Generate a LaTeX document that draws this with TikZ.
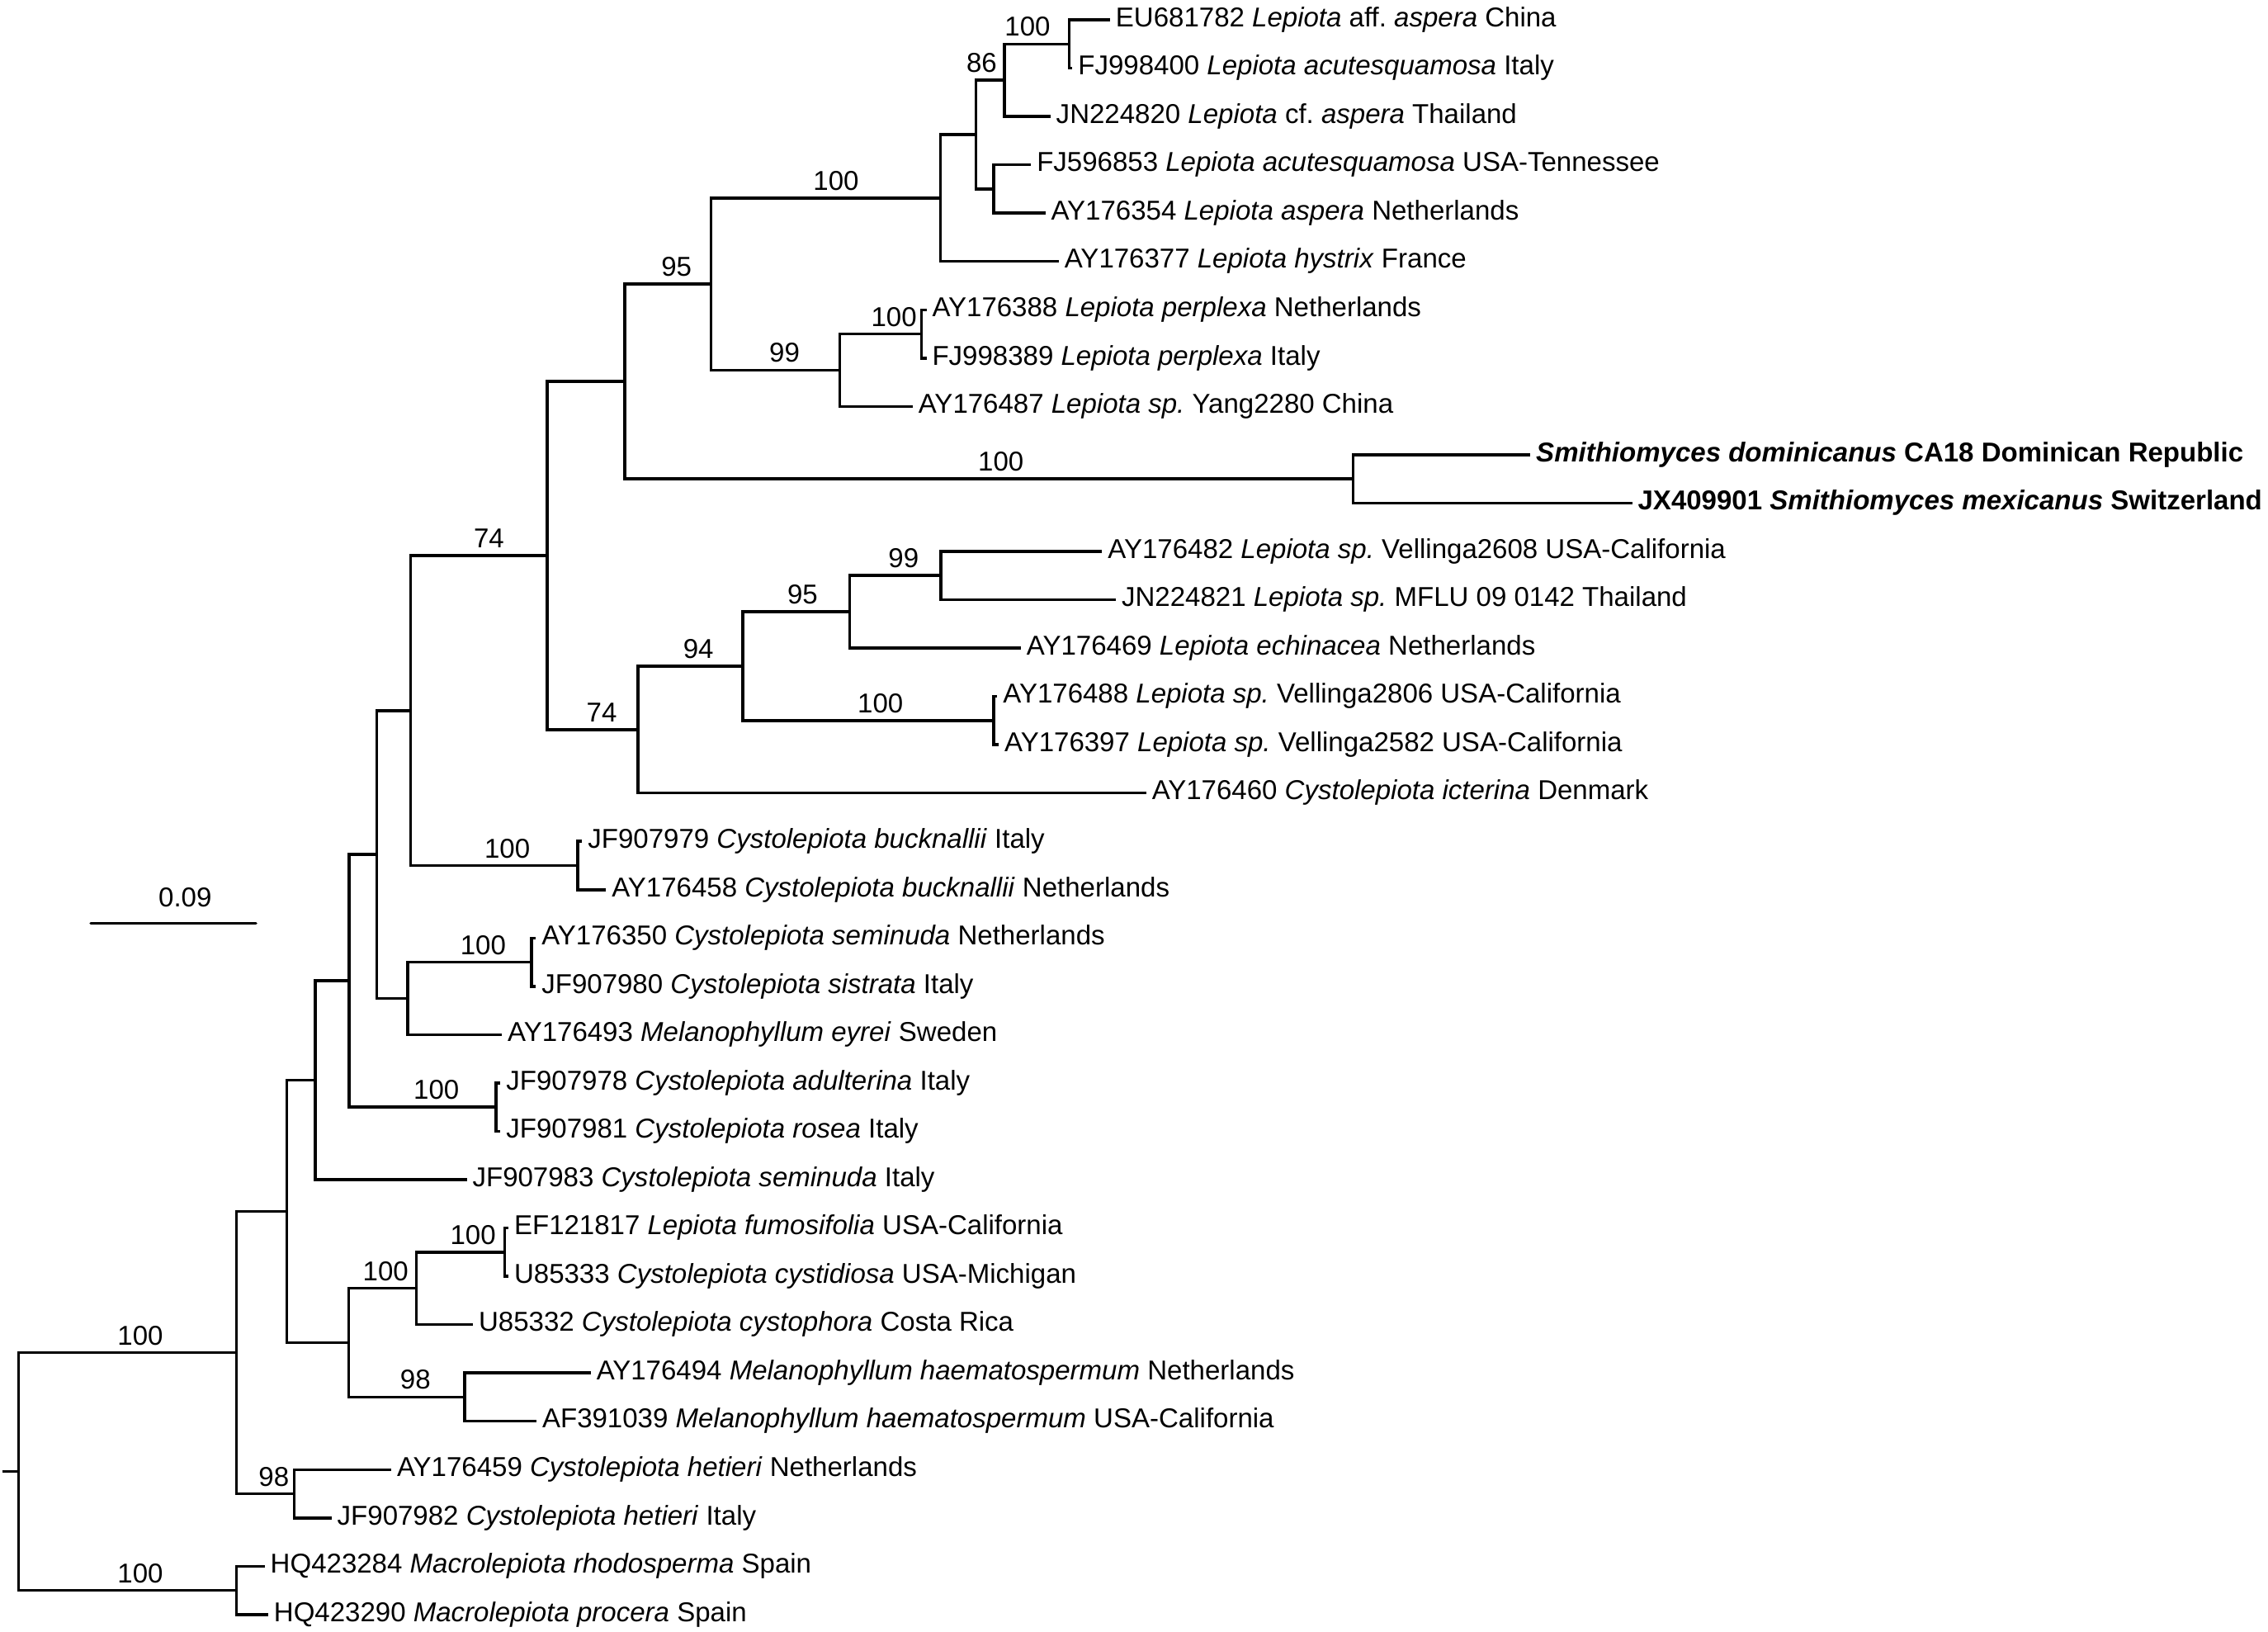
\documentclass[tikz,border=0pt]{standalone}
\usepackage{fontspec}
\setmainfont{Liberation Sans}
\frenchspacing

\begin{document}
\begin{tikzpicture}[
    x=0.017526cm, y=-0.58563cm,
    every node/.style={font=\fontsize{9.4}{11}\selectfont},
    br/.style={line width=1pt},
    tip/.style={anchor=west, inner xsep=1.8pt, inner ysep=0pt, text height=6.7pt, text depth=2pt},
    bs/.style={anchor=south, inner sep=0pt, yshift=2.4pt},
  ]
  \useasboundingbox (0,-0.41) rectangle (1568,33.347);

  % ── Internal nodes ───────────────────────────────────────────────────────

  \coordinate (stub)       at (1.5,   30.040);
  \coordinate (root)       at (12.9,  30.040);
  \coordinate (ingroup)    at (163.6, 27.579);
  \coordinate (macro)      at (163.6, 32.5);
  \coordinate (hetieri)    at (203.5, 30.5);
  \coordinate (core)       at (198.4, 24.659);
  \coordinate (core1)      at (218.0, 21.943);
  \coordinate (core2)      at (241.3, 19.886);
  \coordinate (core3)      at (260.4, 17.271);
  \coordinate (core4)      at (284.0, 14.293);
  \coordinate (fumo)       at (241.0, 27.375);
  \coordinate (cystidiosa) at (287.8, 26.25);
  \coordinate (fumosif)    at (348.8, 25.5);
  \coordinate (haemato)    at (321.2, 28.5);
  \coordinate (adulterina) at (342.8, 22.5);
  \coordinate (seminuda)   at (282.0, 20.25);
  \coordinate (sistrata)   at (367.5, 19.5);
  \coordinate (bucknallii) at (399.4, 17.5);
  \coordinate (lepiota)    at (378.4, 11.086);
  \coordinate (lepsmith)   at (432.0, 7.484);
  \coordinate (icterina)   at (441.2, 14.688);
  \coordinate (lep95)      at (491.5, 5.469);
  \coordinate (aspera)     at (650.3, 3.688);
  \coordinate (aspera1)    at (674.8, 2.375);
  \coordinate (aspera2)    at (694.4, 1.25);
  \coordinate (affaspera)  at (739.3, 0.5);
  \coordinate (acutesq)    at (687.0, 3.5);
  \coordinate (perplexa)   at (580.5, 7.25);
  \coordinate (perplexa2)  at (637.0, 6.5);
  \coordinate (smithio)    at (935.4, 9.5);
  \coordinate (vell94)     at (513.5, 13.375);
  \coordinate (vell95)     at (587.5, 12.25);
  \coordinate (vell99)     at (650.5, 11.5);
  \coordinate (vell100)    at (687.0, 14.5);

  % ── Leaves ───────────────────────────────────────────────────────────────

  \node[tip] (t0)  at (767.4, 0)  {EU681782 \textit{Lepiota} aff. \textit{aspera} China};
  \node[tip] (t1)  at (741.4, 1)  {FJ998400 \textit{Lepiota acutesquamosa} Italy};
  \node[tip] (t2)  at (726.2, 2)  {JN224820 \textit{Lepiota} cf. \textit{aspera} Thailand};
  \node[tip] (t3)  at (712.8, 3)  {FJ596853 \textit{Lepiota acutesquamosa} USA-Tennessee};
  \node[tip] (t4)  at (722.7, 4)  {AY176354 \textit{Lepiota aspera} Netherlands};
  \node[tip] (t5)  at (732.0, 5)  {AY176377 \textit{Lepiota hystrix} France};
  \node[tip] (t6)  at (640.5, 6)  {AY176388 \textit{Lepiota perplexa} Netherlands};
  \node[tip] (t7)  at (640.5, 7)  {FJ998389 \textit{Lepiota perplexa} Italy};
  \node[tip] (t8)  at (631.0, 8)  {AY176487 \textit{Lepiota sp.} Yang2280 China};
  \node[tip] (t9)  at (1058.0, 9) {\bfseries\textit{Smithiomyces dominicanus} CA18 Dominican Republic};
  \node[tip] (t10) at (1128.4, 10) {\bfseries JX409901 \textit{Smithiomyces mexicanus} Switzerland};
  \node[tip] (t11) at (762.0, 11) {AY176482 \textit{Lepiota sp.} Vellinga2608 USA-California};
  \node[tip] (t12) at (771.5, 12) {JN224821 \textit{Lepiota sp.} MFLU 09 0142 Thailand};
  \node[tip] (t13) at (705.8, 13) {AY176469 \textit{Lepiota echinacea} Netherlands};
  \node[tip] (t14) at (689.5, 14) {AY176488 \textit{Lepiota sp.} Vellinga2806 USA-California};
  \node[tip] (t15) at (690.5, 15) {AY176397 \textit{Lepiota sp.} Vellinga2582 USA-California};
  \node[tip] (t16) at (792.4, 16) {AY176460 \textit{Cystolepiota icterina} Denmark};
  \node[tip] (t17) at (402.5, 17) {JF907979 \textit{Cystolepiota bucknallii} Italy};
  \node[tip] (t18) at (419.0, 18) {AY176458 \textit{Cystolepiota bucknallii} Netherlands};
  \node[tip] (t19) at (370.5, 19) {AY176350 \textit{Cystolepiota seminuda} Netherlands};
  \node[tip] (t20) at (370.5, 20) {JF907980 \textit{Cystolepiota sistrata} Italy};
  \node[tip] (t21) at (347.0, 21) {AY176493 \textit{Melanophyllum eyrei} Sweden};
  \node[tip] (t22) at (346.0, 22) {JF907978 \textit{Cystolepiota adulterina} Italy};
  \node[tip] (t23) at (346.0, 23) {JF907981 \textit{Cystolepiota rosea} Italy};
  \node[tip] (t24) at (322.7, 24) {JF907983 \textit{Cystolepiota seminuda} Italy};
  \node[tip] (t25) at (351.5, 25) {EF121817 \textit{Lepiota fumosifolia} USA-California};
  \node[tip] (t26) at (351.5, 26) {U85333 \textit{Cystolepiota cystidiosa} USA-Michigan};
  \node[tip] (t27) at (327.0, 27) {U85332 \textit{Cystolepiota cystophora} Costa Rica};
  \node[tip] (t28) at (408.4, 28) {AY176494 \textit{Melanophyllum haematospermum} Netherlands};
  \node[tip] (t29) at (370.9, 29) {AF391039 \textit{Melanophyllum haematospermum} USA-California};
  \node[tip] (t30) at (270.5, 30) {AY176459 \textit{Cystolepiota hetieri} Netherlands};
  \node[tip] (t31) at (229.2, 31) {JF907982 \textit{Cystolepiota hetieri} Italy};
  \node[tip] (t32) at (183.0, 32) {HQ423284 \textit{Macrolepiota rhodosperma} Spain};
  \node[tip] (t33) at (185.4, 33) {HQ423290 \textit{Macrolepiota procera} Spain};

  % ── Branches ─────────────────────────────────────────────────────────────

  \draw[br] (stub) -- (root);
  \draw[br] (root) |- (ingroup);
  \draw[br] (root) |- (macro);
  \draw[br] (macro) |- (t32.west);
  \draw[br] (macro) |- (t33.west);
  \draw[br] (ingroup) |- (core);
  \draw[br] (ingroup) |- (hetieri);
  \draw[br] (hetieri) |- (t30.west);
  \draw[br] (hetieri) |- (t31.west);

  % lower Cystolepiota / Melanophyllum part
  \draw[br] (core) |- (core1);
  \draw[br] (core) |- (fumo);
  \draw[br] (fumo) |- (cystidiosa);
  \draw[br] (fumo) |- (haemato);
  \draw[br] (cystidiosa) |- (fumosif);
  \draw[br] (cystidiosa) |- (t27.west);
  \draw[br] (fumosif) |- (t25.west);
  \draw[br] (fumosif) |- (t26.west);
  \draw[br] (haemato) |- (t28.west);
  \draw[br] (haemato) |- (t29.west);

  \draw[br] (core1) |- (core2);
  \draw[br] (core1) |- (t24.west);
  \draw[br] (core2) |- (core3);
  \draw[br] (core2) |- (adulterina);
  \draw[br] (adulterina) |- (t22.west);
  \draw[br] (adulterina) |- (t23.west);
  \draw[br] (core3) |- (core4);
  \draw[br] (core3) |- (seminuda);
  \draw[br] (seminuda) |- (sistrata);
  \draw[br] (seminuda) |- (t21.west);
  \draw[br] (sistrata) |- (t19.west);
  \draw[br] (sistrata) |- (t20.west);
  \draw[br] (core4) |- (lepiota);
  \draw[br] (core4) |- (bucknallii);
  \draw[br] (bucknallii) |- (t17.west);
  \draw[br] (bucknallii) |- (t18.west);

  % Lepiota part
  \draw[br] (lepiota) |- (lepsmith);
  \draw[br] (lepiota) |- (icterina);
  \draw[br] (lepsmith) |- (lep95);
  \draw[br] (lepsmith) |- (smithio);
  \draw[br] (smithio) |- (t9.west);
  \draw[br] (smithio) |- (t10.west);
  \draw[br] (lep95) |- (aspera);
  \draw[br] (lep95) |- (perplexa);
  \draw[br] (aspera) |- (aspera1);
  \draw[br] (aspera) |- (t5.west);
  \draw[br] (aspera1) |- (aspera2);
  \draw[br] (aspera1) |- (acutesq);
  \draw[br] (aspera2) |- (affaspera);
  \draw[br] (aspera2) |- (t2.west);
  \draw[br] (affaspera) |- (t0.west);
  \draw[br] (affaspera) |- (t1.west);
  \draw[br] (acutesq) |- (t3.west);
  \draw[br] (acutesq) |- (t4.west);
  \draw[br] (perplexa) |- (perplexa2);
  \draw[br] (perplexa) |- (t8.west);
  \draw[br] (perplexa2) |- (t6.west);
  \draw[br] (perplexa2) |- (t7.west);

  \draw[br] (icterina) |- (vell94);
  \draw[br] (icterina) |- (t16.west);
  \draw[br] (vell94) |- (vell95);
  \draw[br] (vell94) |- (vell100);
  \draw[br] (vell95) |- (vell99);
  \draw[br] (vell95) |- (t13.west);
  \draw[br] (vell99) |- (t11.west);
  \draw[br] (vell99) |- (t12.west);
  \draw[br] (vell100) |- (t14.west);
  \draw[br] (vell100) |- (t15.west);

  % ── Bootstrap values ─────────────────────────────────────────────────────

  \node[bs] (bIngroup)    at (97.0,  27.579) {100};
  \node[bs] (bMacro)      at (97.0,  32.5)   {100};
  \node[bs] (bHetieri)    at (189.3, 30.5)   {98};
  \node[bs] (bCystidiosa) at (266.6, 26.25)  {100};
  \node[bs] (bFumosif)    at (327.0, 25.5)   {100};
  \node[bs] (bHaemato)    at (287.2, 28.5)   {98};
  \node[bs] (bAdulterina) at (301.7, 22.5)   {100};
  \node[bs] (bSistrata)   at (334.0, 19.5)   {100};
  \node[bs] (bBucknallii) at (350.7, 17.5)   {100};
  \node[bs] (bLepiota)    at (338.0, 11.086) {74};
  \node[bs] (bIcterina)   at (416.0, 14.688) {74};
  \node[bs] (bLep95)      at (467.7, 5.469)  {95};
  \node[bs] (bSmithio)    at (692.0, 9.5)    {100};
  \node[bs] (bAspera)     at (578.0, 3.688)  {100};
  \node[bs] (bAspera2)    at (678.7, 1.25)   {86};
  \node[bs] (bAffaspera)  at (710.4, 0.5)    {100};
  \node[bs] (bPerplexa)   at (542.4, 7.25)   {99};
  \node[bs] (bPerplexa2)  at (618.0, 6.5)    {100};
  \node[bs] (bVell94)     at (482.8, 13.375) {94};
  \node[bs] (bVell95)     at (554.9, 12.25)  {95};
  \node[bs] (bVell99)     at (624.7, 11.5)   {99};
  \node[bs] (bVell100)    at (608.7, 14.5)   {100};

  % ── Scale bar ────────────────────────────────────────────────────────────

  \coordinate (sbL) at (62.8,  18.698);
  \coordinate (sbR) at (176.9, 18.698);
  \draw[br, line cap=round] (sbL) -- (sbR);
  \node[bs, yshift=3pt] (sbText) at (128.0, 18.698) {0.09};

\end{tikzpicture}
\end{document}
